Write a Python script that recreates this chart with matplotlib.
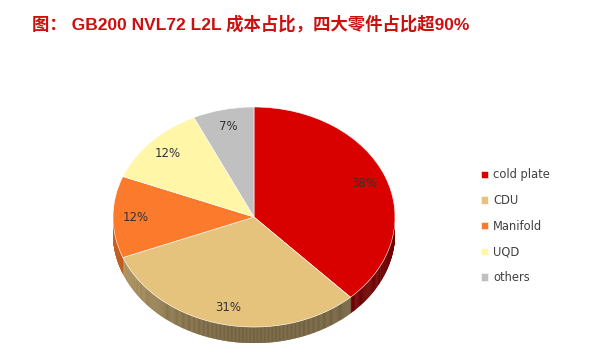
import numpy as np
import matplotlib
matplotlib.use("Agg")
import matplotlib.pyplot as plt
from matplotlib.colors import to_rgb

# data
labels = ["cold plate", "CDU", "Manifold", "UQD", "others"]
shares = [38, 31, 12, 12, 7]
colors = ["#d90000", "#e6c37d", "#fc7a2b", "#fff6a8", "#c0c0c0"]

title = "图： GB200 NVL72 L2L 成本占比，四大零件占比超90%"

W, H = 608, 357
fig = plt.figure(figsize=(W / 100, H / 100), dpi=100)

# pie area (top face 113..395 x, 107..327 y, side down to ~343)
depth = 0.145
ax = fig.add_axes([113 / W, 1 - 343 / H, 282 / W, 236 / H])

wedges, texts, autotexts = ax.pie(
    shares, colors=colors, startangle=90, counterclock=False,
    autopct="%d%%", pctdistance=0.84,
    wedgeprops=dict(edgecolor="white", linewidth=0.4),
    textprops=dict(fontsize=8.5, color="#333333", family="DejaVu Sans"))

# side of the 3d pie, shaded by angle
for w, c in zip(wedges, colors):
    base = np.array(to_rgb(c))
    t = np.linspace(np.radians(w.theta1), np.radians(w.theta2), 200)
    for a, b in zip(t[:-1], t[1:]):
        m = (a + b) / 2
        if np.sin(m) >= 0:
            continue
        f = 0.5 + 0.3 * max(0, -np.cos(m)) ** 2
        xs = [np.cos(a), np.cos(b), np.cos(b), np.cos(a)]
        ys = [np.sin(a), np.sin(b), np.sin(b) - depth, np.sin(a) - depth]
        ax.fill(xs, ys, color=base * f, lw=0.3, ec=base * f, zorder=0)

ax.set_aspect("auto")
ax.set_xlim(-1.0, 1.0)
ax.set_ylim(-1 - depth, 1.0)
ax.axis("off")

fig.text(32 / W, 1 - 24 / H, title, color="#cc1010", fontsize=12.5,
         fontweight="bold", va="center", ha="left",
         family=["Liberation Sans", "Noto Sans CJK SC"])

fig.legend(wedges, labels, loc="upper left", bbox_to_anchor=(471 / W, 1 - 158 / H),
           frameon=False, fontsize=8.3, handlelength=0.6, handleheight=0.6,
           handletextpad=0.4, labelspacing=1.1, labelcolor="#404040")

fig.savefig("out.png", dpi=100, facecolor="white")
